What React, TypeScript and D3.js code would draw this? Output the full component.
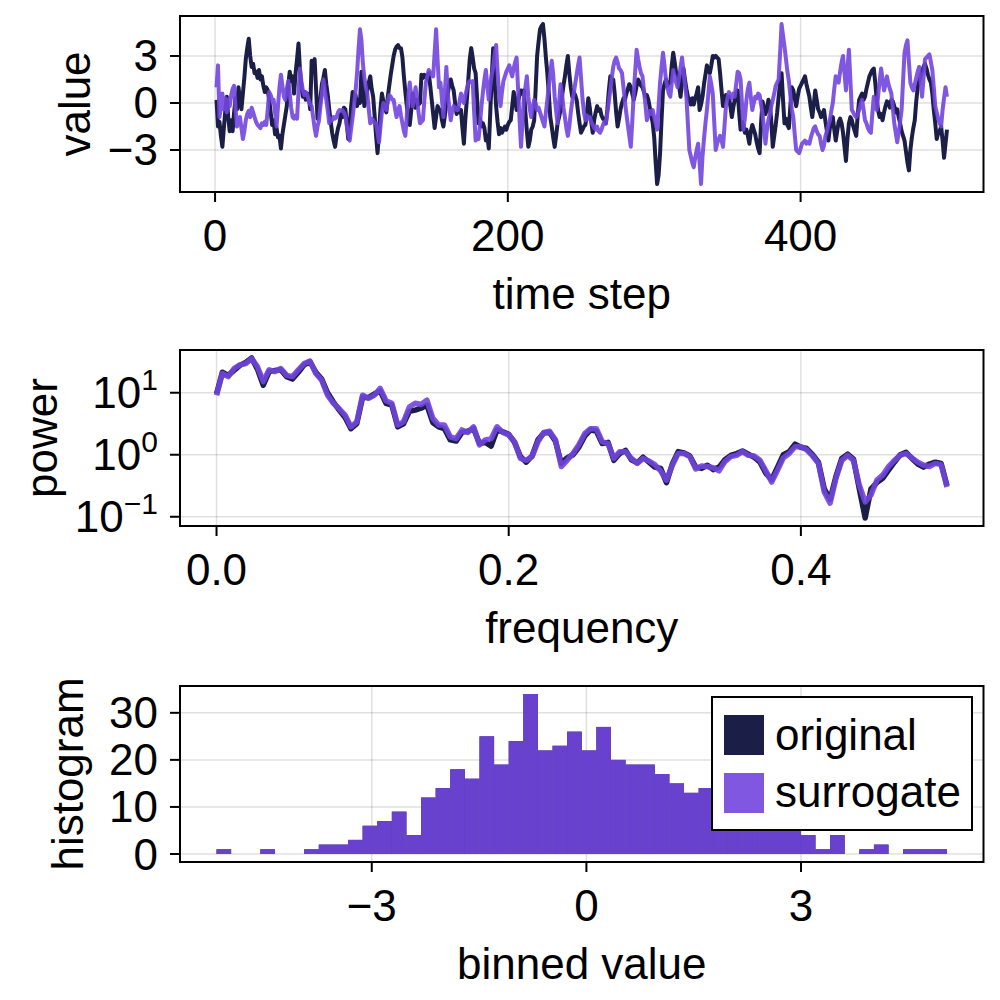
import React from "react";
import * as d3 from "d3";

// ---------- data ----------
const originalSeries: number[] = [
  0.2,-1.5,-1.2,-2.1,-2.8,-1.6,-0.5,0.4,-0.9,-1.8,
  -1.1,-1.8,-0.6,0.3,-0.4,1.0,0.2,-0.4,0.6,1.6,
  2.8,3.5,4.1,3.0,2.3,2.5,1.9,2.0,1.6,2.1,
  1.5,1.7,1.1,0.7,1.0,0.8,0.2,-0.6,-1.4,-1.1,
  -2.0,-1.6,-2.2,-2.1,-2.9,-2.0,-1.4,-0.8,-0.2,1.1,
  2.0,1.4,1.7,0.6,1.9,2.8,3.8,2.1,1.0,0.4,
  0.7,0.2,0.6,0.4,-0.4,2.7,2.2,2.8,0.9,-1.0,
  -0.3,0.3,1.2,1.6,2.1,1.2,0.5,-0.4,-1.2,-1.9,
  -2.4,-2.8,-2.1,-1.6,-1.3,-0.7,-0.9,-0.3,-0.4,-1.3,
  -2.3,-1.4,-0.2,0.7,0.3,0.5,-0.2,0.2,0.0,2.0,
  0.9,-0.2,0.3,0.8,1.3,1.7,0.9,0.4,-0.8,-2.1,
  -3.2,-1.9,-0.4,0.6,0.1,-0.3,-0.6,0.4,1.1,1.8,
  2.4,3.0,3.4,3.6,3.7,3.5,3.5,2.9,1.7,0.7,
  -0.2,-0.9,-1.4,-0.5,0.6,0.1,-0.3,0.2,-0.1,0.0,
  1.8,1.6,1.8,1.7,1.5,1.9,1.1,0.2,-0.7,-1.6,
  -0.9,-0.2,-0.4,-0.45,-1.1,-1.5,-0.8,0.0,0.6,1.2,
  1.5,1.1,0.8,0.0,-0.7,-0.3,-0.6,-0.45,-1.6,-2.6,
  -1.0,0.2,1.5,2.8,3.5,2.9,2.2,1.9,0.3,-1.3,
  -1.0,-1.5,-1.3,-1.6,-2.4,-2.1,-2.9,-0.6,1.6,3.5,
  1.4,-0.2,-1.2,-2.0,-1.6,-1.9,-1.7,-1.5,-1.7,-1.4,
  -1.2,-1.1,-0.2,0.7,0.3,-0.45,0.1,0.5,0.8,0.6,
  0.8,-0.6,-1.8,-2.8,-2.4,-1.7,-1.5,-1.1,0.9,3.0,
  3.9,4.7,4.9,5.04,4.1,2.9,1.9,0.6,-0.9,-1.5,
  -2.2,-2.8,-2.1,-1.3,-0.9,-0.45,0.4,1.1,1.7,2.4,
  3.0,1.9,1.0,0.4,0.7,0.5,0.2,-0.6,-1.3,-1.9,
  -1.7,-1.5,-1.4,-0.6,0.3,-0.3,-1.2,-1.9,-1.1,-0.6,
  -0.2,-0.5,-0.4,-0.8,-1.0,-1.1,-1.3,-0.4,0.8,1.7,
  1.3,1.5,0.6,-0.6,-1.5,-1.0,-0.4,0.0,0.3,0.2,
  0.6,0.9,1.2,1.0,0.6,0.2,0.6,1.1,1.5,1.3,
  1.1,1.0,0.7,0.4,0.5,0.2,-0.3,-0.8,-1.3,-2.2,
  -3.8,-5.17,-4.6,-3.2,-1.1,0.8,1.2,1.5,1.1,1.3,
  1.3,2.4,3.2,2.6,1.9,1.9,1.1,0.4,1.4,2.2,
  1.5,0.9,0.4,0.2,-0.1,0.3,-0.1,0.3,0.6,1.0,
  -0.45,-0.1,0.4,1.2,1.8,2.4,2.1,1.9,2.4,3.0,
  2.9,3.0,2.9,2.8,1.9,0.8,-0.2,0.3,0.5,0.3,
  0.4,-0.2,-0.9,-0.3,0.2,0.6,0.8,-0.6,-1.7,-1.2,
  -1.5,-1.9,-1.7,-2.1,-2.6,-1.8,-1.4,-1.7,-2.0,-2.5,
  -2.9,-3.2,-1.3,0.1,-0.3,-0.7,-0.4,0.2,0.0,-1.2,
  -2.8,-2.1,-1.4,-0.6,0.4,1.3,1.9,0.2,-1.3,-1.0,
  -1.4,-1.6,-0.2,1.0,0.8,0.3,-0.2,0.4,0.9,1.1,
  1.3,1.5,1.7,1.2,0.8,0.4,-0.3,-0.9,-0.1,0.8,
  0.2,-0.4,-0.6,-0.9,-0.7,-0.45,-1.2,-1.8,-2.4,-1.6,
  -1.1,-0.9,-1.7,-2.4,-1.8,-1.2,-1.0,-1.3,-1.9,-2.8,
  -3.7,-2.3,-1.3,-0.9,-1.1,-1.5,-1.8,-2.1,-0.8,0.2,
  0.4,0.6,0.2,0.4,0.9,1.3,1.7,1.9,2.1,2.2,
  1.3,0.2,-0.5,-0.9,-0.7,-1.1,-0.6,-0.2,0.1,0.0,
  -0.3,0.2,0.1,-0.2,-0.6,-0.4,-0.9,-1.3,-1.8,-2.1,
  -2.4,-3.1,-3.8,-4.3,-3.0,-2.2,-1.6,-1.1,0.1,1.0,
  1.4,1.7,2.0,2.3,2.5,2.2,1.8,1.5,1.3,0.6,
  -0.45,-1.3,-2.3,-1.9,-1.8,-1.5,-2.4,-3.5,-2.6,-1.7,
];

const surrogateSeries: number[] = [
  1.0,2.4,-0.9,-0.3,0.6,-0.4,0.3,-0.6,0.2,-0.2,
  0.5,0.9,1.1,-0.4,-1.5,-1.0,-0.9,-1.6,-2.3,-1.8,
  -1.1,-0.7,-0.5,-0.9,-0.3,-0.6,-0.9,-1.2,-1.4,-1.5,
  -1.6,-1.3,-1.4,-1.2,-1.4,-0.4,0.7,0.5,0.2,0.2,
  -0.6,-1.5,-0.2,1.0,1.8,1.1,0.4,0.2,0.9,1.4,
  0.6,-0.3,-0.9,-1.0,-0.8,-1.0,0.7,2.2,1.4,0.8,
  0.5,0.7,0.5,0.2,-0.1,-0.2,-0.9,-1.6,-2.1,-1.5,
  -1.1,-0.2,0.6,1.5,0.8,0.2,-0.5,-1.3,-1.0,-1.1,
  -0.9,-1.0,-0.9,-0.6,-0.45,-0.5,-0.45,-0.6,-0.8,-1.5,
  -2.0,-2.4,-1.6,-0.9,-0.1,0.8,1.9,3.4,4.7,4.0,
  2.5,1.6,1.0,0.6,-0.4,-1.3,-1.0,-1.1,-1.3,-1.3,
  -1.9,-2.5,-1.5,-0.6,0.0,-0.3,-0.45,0.1,0.5,0.4,
  0.2,0.2,-0.4,-0.9,-0.5,-0.2,-0.8,-1.3,-1.8,-2.1,
  -0.8,0.4,1.3,0.5,-0.2,0.4,1.0,0.2,-0.6,-1.3,
  -1.2,-1.1,0.2,1.3,1.7,2.1,1.9,1.8,1.7,3.2,
  4.7,2.8,1.0,1.3,0.2,-0.9,0.7,2.3,0.6,-0.3,
  -1.1,-0.5,-0.2,-0.3,-0.45,-0.45,0.1,0.6,0.2,0.0,
  0.5,0.9,1.3,1.4,1.3,1.4,-0.6,-2.4,-2.2,-2.3,
  -1.3,-0.2,0.7,1.5,2.1,1.1,0.2,1.1,1.8,2.3,
  3.1,3.7,2.0,0.6,-0.2,0.7,1.4,1.7,2.0,2.2,
  2.4,2.0,1.7,2.2,2.6,2.9,0.9,-1.0,-2.8,-1.2,
  0.4,1.0,1.7,0.4,-0.4,-0.9,-0.3,0.2,0.0,-0.45,
  -0.3,-0.6,-0.9,-1.2,-1.5,-0.6,0.2,1.1,1.9,2.7,
  1.8,0.4,-0.5,-1.3,0.0,1.2,0.6,-0.3,-0.9,-1.6,
  -2.1,-1.5,-0.6,0.1,0.6,1.2,1.8,2.4,2.9,1.6,
  0.3,-0.6,-1.1,-0.8,-1.0,-0.9,-1.2,-1.4,-1.6,-1.7,
  -1.5,-1.8,-1.9,-1.7,-1.4,-1.2,-1.3,-0.6,0.1,0.8,
  1.6,2.3,2.7,2.9,2.6,2.2,2.1,1.9,1.0,0.1,
  -0.7,-1.4,-2.1,-2.8,-1.2,0.6,2.0,3.4,2.8,2.3,
  1.9,1.7,0.8,-0.1,-1.1,-0.8,-0.5,-0.7,-0.45,-0.9,
  -1.3,-1.7,-0.2,1.3,2.3,3.2,2.4,1.5,1.0,0.6,
  0.4,1.3,2.1,1.7,1.3,1.0,1.6,2.3,2.9,2.0,
  1.2,0.4,-1.3,-3.0,-3.4,-3.8,-4.1,-3.5,-3.0,-2.6,
  -3.8,-5.17,-3.4,-2.3,-1.3,-0.45,0.6,1.7,1.2,0.6,
  -1.2,-3.0,-2.6,-2.3,-2.1,-2.4,-2.8,-1.5,-0.2,0.3,
  0.7,0.5,0.3,0.6,0.4,1.2,2.0,1.9,1.5,-0.1,
  -1.7,-0.9,0.2,0.9,1.3,0.4,-0.45,0.0,0.4,0.3,
  0.6,0.5,-0.1,-0.7,-1.6,-2.6,-1.7,-1.1,-0.7,-0.2,
  0.2,0.6,1.1,1.3,1.5,3.2,5.04,4.3,3.6,2.8,
  2.0,1.4,0.5,-0.4,-0.9,-2.0,-3.0,-3.1,-3.2,-2.9,
  -2.6,-2.5,-2.4,-2.6,-2.5,-2.6,-2.2,-1.9,-1.6,-1.5,
  -1.8,-2.0,-2.1,-2.6,-3.0,-2.7,-2.1,-1.8,-1.4,-1.1,
  -0.5,0.0,0.9,1.7,1.4,1.3,2.0,2.6,3.0,1.9,
  0.8,2.1,3.4,1.5,-0.45,-0.6,-0.8,-0.9,-0.7,-0.45,
  -0.1,0.2,-0.4,-1.1,-1.3,-1.6,-1.8,-1.9,-0.7,0.4,
  0.1,-0.45,0.5,1.4,2.2,1.5,0.8,1.2,1.7,1.2,
  0.9,0.6,-0.3,-1.3,-1.9,-2.5,-1.9,-1.2,-0.45,1.4,
  3.2,3.7,4.0,2.6,1.3,1.0,0.8,1.2,1.6,2.0,
  2.3,1.4,0.4,1.6,2.8,2.9,3.0,3.1,2.6,2.1,
  1.0,-0.2,-0.6,-1.0,-1.3,-1.5,-0.45,0.3,1.0,0.4,
];

// log10 of power at frequencies 0, 0.004, ..., 0.5
const freqStep = 0.004;
const originalLogPower: number[] = [
  0.98,1.33,1.28,1.36,1.44,1.49,1.56,1.38,1.12,1.34,
  1.36,1.37,1.26,1.22,1.33,1.45,1.5,1.33,1.22,1.0,
  0.85,0.72,0.6,0.42,0.5,0.93,0.92,0.98,1.03,0.83,
  0.8,0.45,0.5,0.7,0.72,0.75,0.8,0.52,0.45,0.42,
  0.24,0.22,0.36,0.38,0.42,0.18,0.2,0.14,0.4,0.37,
  0.33,0.2,-0.03,-0.12,-0.02,0.24,0.35,0.36,0.22,-0.14,
  -0.05,0.0,0.12,0.3,0.4,0.38,0.18,0.2,-0.09,0.02,
  0.07,-0.08,-0.13,-0.04,-0.12,-0.2,-0.22,-0.45,-0.15,0.05,
  0.03,-0.02,-0.2,-0.22,-0.17,-0.24,-0.2,-0.08,-0.01,0.02,
  0.06,0.01,-0.04,-0.12,-0.3,-0.4,-0.2,0.0,0.05,0.17,
  0.12,0.1,0.0,-0.12,-0.55,-0.72,-0.35,-0.06,0.01,-0.07,
  -0.55,-1.02,-0.55,-0.45,-0.38,-0.25,-0.12,0.0,0.04,-0.06,
  -0.15,-0.2,-0.15,-0.12,-0.14,-0.5,
];
const surrogateLogPower: number[] = [
  0.96,1.31,1.26,1.39,1.45,1.47,1.55,1.42,1.18,1.37,
  1.34,1.39,1.28,1.26,1.37,1.47,1.51,1.31,1.2,0.96,
  0.83,0.74,0.64,0.45,0.53,0.96,0.91,0.96,1.07,0.87,
  0.83,0.48,0.53,0.77,0.83,0.81,0.88,0.59,0.48,0.48,
  0.29,0.26,0.4,0.36,0.45,0.16,0.24,0.26,0.45,0.36,
  0.32,0.21,-0.06,-0.09,-0.03,0.21,0.36,0.38,0.24,-0.19,
  -0.09,0.02,0.16,0.34,0.42,0.42,0.21,0.18,-0.06,0.05,
  0.05,-0.06,-0.14,-0.06,-0.1,-0.16,-0.26,-0.41,-0.17,0.02,
  0.02,-0.03,-0.23,-0.18,-0.19,-0.21,-0.26,-0.11,-0.03,-0.01,
  0.05,-0.01,-0.02,-0.09,-0.26,-0.44,-0.25,-0.05,0.02,0.13,
  0.13,0.08,-0.02,-0.14,-0.6,-0.78,-0.38,-0.09,-0.01,-0.09,
  -0.49,-0.76,-0.65,-0.41,-0.33,-0.19,-0.09,-0.01,0.02,-0.05,
  -0.12,-0.17,-0.19,-0.14,-0.16,-0.52,
];

// histogram counts (50 equal bins over the value range); identical for both series
const histCounts: number[] = [
  1,0,0,1,0,0,1,2,2,3,
  6,7,9,4,12,14,18,16,25,19,
  24,34,22,23,26,22,27,20,19,19,
  17,15,13,14,12,10,9,8,6,5,
  4,1,4,0,1,2,0,1,1,1,
];

const tsXTicks = [0, 200, 400];
const tsYTicks = [-3, 0, 3];
const psXTicks = [0, 0.2, 0.4];
const psYExponents = [-1, 0, 1];
const hsXTicks = [-3, 0, 3];
const hsYTicks = [0, 10, 20, 30];
const seriesNames = ["original", "surrogate"];

// ---------- style ----------
const FONT = '"Liberation Sans", Arial, Helvetica, sans-serif';
const FS = 44;
const DARK = "#1b1f47";
const PURPLE = "rgb(113,69,222)";
const PA = 0.9;
const GRID = "rgba(0,0,0,0.12)";
const LEFT = 180;
const RIGHT = 983.5;
const TS = [16, 192];
const PS = [350, 526];
const HS = [686, 862];

const padded = (lo: number, hi: number): [number, number] => {
  const r = hi - lo;
  return [lo - 0.05 * r, hi + 0.05 * r];
};
const minus = (s: string) => s.replace("-", "\u2212");

function Frame({ top, bottom }: { top: number; bottom: number }) {
  return (
    <rect x={LEFT} y={top} width={RIGHT - LEFT} height={bottom - top} fill="none" stroke="#000" strokeWidth={2} />
  );
}

function XAxis({ ticks, scale, bottom, fmt, label }: any) {
  return (
    <g>
      {ticks.map((t: number) => (
        <g key={"x" + t}>
          <line x1={scale(t)} x2={scale(t)} y1={bottom} y2={bottom + 10} stroke="#000" strokeWidth={2} />
          <text x={scale(t)} y={bottom + 59} textAnchor="middle" fontSize={FS} fontFamily={FONT}>
            {fmt(t)}
          </text>
        </g>
      ))}
      <text x={(LEFT + RIGHT) / 2} y={bottom + 117} textAnchor="middle" fontSize={FS} fontFamily={FONT}>
        {label}
      </text>
    </g>
  );
}

function Grid({ xs, ys, top, bottom }: { xs: number[]; ys: number[]; top: number; bottom: number }) {
  return (
    <g>
      {xs.map((x, i) => (
        <line key={"gx" + i} x1={x} x2={x} y1={top} y2={bottom} stroke={GRID} strokeWidth={1.5} />
      ))}
      {ys.map((y, i) => (
        <line key={"gy" + i} x1={LEFT} x2={RIGHT} y1={y} y2={y} stroke={GRID} strokeWidth={1.5} />
      ))}
    </g>
  );
}

function YTicks({ ys }: { ys: number[] }) {
  return (
    <g>
      {ys.map((y, i) => (
        <line key={"yt" + i} x1={LEFT - 10} x2={LEFT} y1={y} y2={y} stroke="#000" strokeWidth={2} />
      ))}
    </g>
  );
}

function YLabel({ x, top, bottom, text }: any) {
  const cy = (top + bottom) / 2;
  return (
    <text transform={`translate(${x},${cy}) rotate(-90)`} textAnchor="middle" fontSize={FS} fontFamily={FONT}>
      {text}
    </text>
  );
}

export default function App() {
  // ---- time series panel ----
  const n = originalSeries.length;
  const allVals = originalSeries.concat(surrogateSeries);
  const vExt = d3.extent(allVals) as [number, number];
  const xTs = d3.scaleLinear().domain(padded(1, n)).range([LEFT, RIGHT]);
  const yTs = d3.scaleLinear().domain(padded(vExt[0], vExt[1])).range([TS[1], TS[0]]);
  const tsLine = d3
    .line<number>()
    .x((_, i) => xTs(i + 1))
    .y((d) => yTs(d));

  // ---- power spectrum panel ----
  const freqs = originalLogPower.map((_, i) => i * freqStep);
  const lpExt = d3.extent(originalLogPower.concat(surrogateLogPower)) as [number, number];
  const lpDom = padded(lpExt[0], lpExt[1]);
  const xPs = d3.scaleLinear().domain(padded(0, freqs[freqs.length - 1])).range([LEFT, RIGHT]);
  const yPs = d3.scaleLog().domain([Math.pow(10, lpDom[0]), Math.pow(10, lpDom[1])]).range([PS[1], PS[0]]);
  const psLine = d3
    .line<number>()
    .x((_, i) => xPs(freqs[i]))
    .y((d) => yPs(Math.pow(10, d)));

  // ---- histogram panel ----
  const nb = histCounts.length;
  const bw = (vExt[1] - vExt[0]) / nb;
  const edges = histCounts.map((_, i) => vExt[0] + i * bw);
  const xHs = d3.scaleLinear().domain(padded(vExt[0], vExt[1])).range([LEFT, RIGHT]);
  const maxC = d3.max(histCounts) as number;
  const yHs = d3.scaleLinear().domain(padded(0, maxC)).range([HS[1], HS[0]]);

  const bars = (color: string, opacity: number) =>
    histCounts.map((c, i) =>
      c > 0 ? (
        <rect
          key={color + i}
          x={xHs(edges[i])}
          width={xHs(edges[i] + bw) - xHs(edges[i])}
          y={yHs(c)}
          height={yHs(0) - yHs(c)}
          fill={color}
          fillOpacity={opacity}
        />
      ) : null
    );

  const fmtInt = (v: number) => minus(String(v));
  const fmt1 = (v: number) => d3.format(".1f")(v);

  const lgX = 712, lgY = 697, lgW = 260, lgH = 133;

  return (
    <svg
      width={1000}
      height={1000}
      viewBox="0 0 1000 1000"
      style={{ position: "absolute", left: 0, top: 0, background: "#fff" }}
    >
      <rect x={0} y={0} width={1000} height={1000} fill="#fff" />
      <defs>
        <clipPath id="c1">
          <rect x={LEFT} y={TS[0]} width={RIGHT - LEFT} height={TS[1] - TS[0]} />
        </clipPath>
        <clipPath id="c2">
          <rect x={LEFT} y={PS[0]} width={RIGHT - LEFT} height={PS[1] - PS[0]} />
        </clipPath>
      </defs>

      {/* ===== Panel 1: time series ===== */}
      <Grid xs={tsXTicks.map((t) => xTs(t))} ys={tsYTicks.map((t) => yTs(t))} top={TS[0]} bottom={TS[1]} />
      <g clipPath="url(#c1)">
        <path d={tsLine(originalSeries) || ""} fill="none" stroke={DARK} strokeWidth={4} strokeLinejoin="round" />
        <path
          d={tsLine(surrogateSeries) || ""}
          fill="none"
          stroke={PURPLE}
          strokeOpacity={PA}
          strokeWidth={4}
          strokeLinejoin="round"
        />
      </g>
      <Frame top={TS[0]} bottom={TS[1]} />
      <YTicks ys={tsYTicks.map((t) => yTs(t))} />
      {tsYTicks.map((t) => (
        <text key={"tsy" + t} x={158} y={yTs(t) + 15.5} textAnchor="end" fontSize={FS} fontFamily={FONT}>
          {fmtInt(t)}
        </text>
      ))}
      <XAxis ticks={tsXTicks} scale={xTs} bottom={TS[1]} fmt={fmtInt} label="time step" />
      <YLabel x={90} top={TS[0]} bottom={TS[1]} text="value" />

      {/* ===== Panel 2: power spectrum ===== */}
      <Grid
        xs={psXTicks.map((t) => xPs(t))}
        ys={psYExponents.map((e) => yPs(Math.pow(10, e)))}
        top={PS[0]}
        bottom={PS[1]}
      />
      <g clipPath="url(#c2)">
        <path d={psLine(originalLogPower) || ""} fill="none" stroke={DARK} strokeWidth={5.5} strokeLinejoin="round" />
        <path
          d={psLine(surrogateLogPower) || ""}
          fill="none"
          stroke={PURPLE}
          strokeOpacity={PA}
          strokeWidth={5.5}
          strokeLinejoin="round"
        />
      </g>
      <Frame top={PS[0]} bottom={PS[1]} />
      <YTicks ys={psYExponents.map((e) => yPs(Math.pow(10, e)))} />
      {psYExponents.map((e) => (
        <text key={"psy" + e} x={158} y={yPs(Math.pow(10, e)) + 15.5} textAnchor="end" fontSize={FS} fontFamily={FONT}>
          10
          <tspan fontSize={30} dy={-18}>
            {minus(String(e))}
          </tspan>
        </text>
      ))}
      <XAxis ticks={psXTicks} scale={xPs} bottom={PS[1]} fmt={fmt1} label="frequency" />
      <YLabel x={57} top={PS[0]} bottom={PS[1]} text="power" />

      {/* ===== Panel 3: histogram ===== */}
      <Grid xs={hsXTicks.map((t) => xHs(t))} ys={hsYTicks.map((t) => yHs(t))} top={HS[0]} bottom={HS[1]} />
      {bars(DARK, 1)}
      {bars(PURPLE, PA)}
      <Frame top={HS[0]} bottom={HS[1]} />
      <YTicks ys={hsYTicks.map((t) => yHs(t))} />
      {hsYTicks.map((t) => (
        <text key={"hsy" + t} x={158} y={yHs(t) + 15.5} textAnchor="end" fontSize={FS} fontFamily={FONT}>
          {fmtInt(t)}
        </text>
      ))}
      <XAxis ticks={hsXTicks} scale={xHs} bottom={HS[1]} fmt={fmtInt} label="binned value" />
      <YLabel x={83} top={HS[0]} bottom={HS[1]} text="histogram" />

      {/* legend */}
      <rect x={lgX} y={lgY} width={lgW} height={lgH} fill="#fff" stroke="#000" strokeWidth={2} />
      <rect x={724} y={715} width={40} height={40} fill={DARK} />
      <rect x={724} y={773} width={40} height={40} fill={PURPLE} fillOpacity={PA} />
      <text x={775} y={750} fontSize={FS} fontFamily={FONT}>
        {seriesNames[0]}
      </text>
      <text x={775} y={807} fontSize={FS} fontFamily={FONT}>
        {seriesNames[1]}
      </text>
    </svg>
  );
}
